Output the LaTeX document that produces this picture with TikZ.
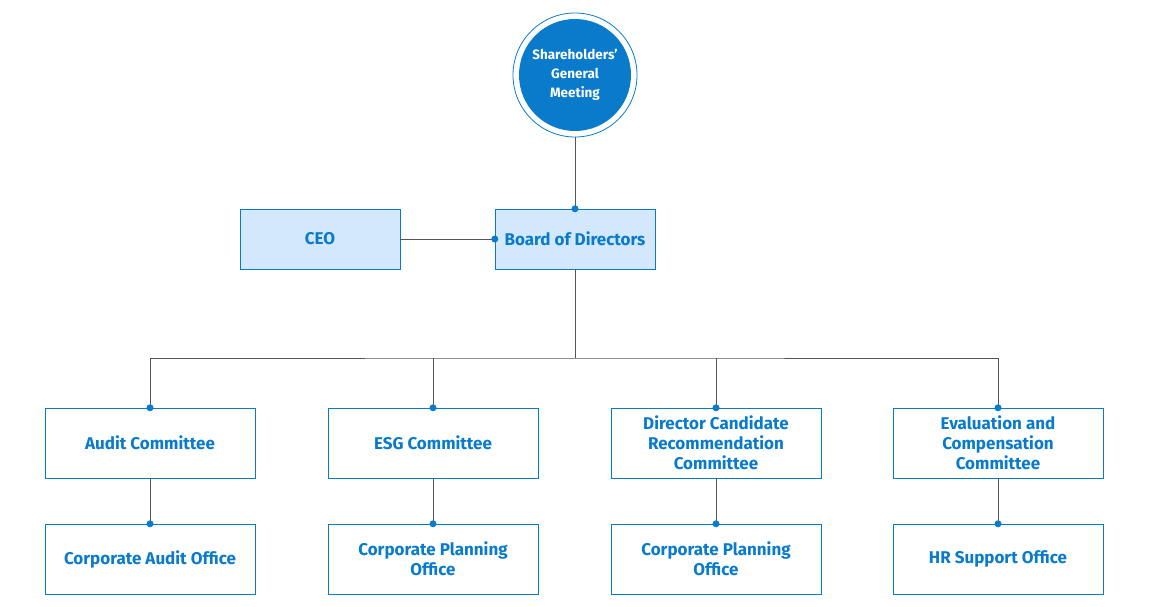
\documentclass[tikz,border=0pt]{standalone}
\usepackage{fontspec}
\setmainfont{Fira Sans}
\usetikzlibrary{positioning}
\definecolor{orgblue}{HTML}{0A7BCB}
\definecolor{orgfill}{HTML}{D3E8FB}
\definecolor{orgline}{HTML}{555555}
\tikzset{
  top/.style={draw=orgblue, fill=orgfill, minimum width=160pt, minimum height=60pt, align=center, text=orgblue, font=\fontsize{17}{20}\selectfont\bfseries},
  unit/.style={draw=orgblue, fill=white, minimum width=210pt, minimum height=70pt, align=center, text=orgblue, font=\fontsize{17}{20}\selectfont\bfseries},
  link/.style={draw=orgline, line width=0.6pt},
  dot/.style={circle, fill=orgblue, inner sep=0pt, minimum size=7pt},
}
\begin{document}
\begin{tikzpicture}[x=1pt, y=-1pt]
\useasboundingbox (0,0) rectangle (1150,607);
\node (gm) [circle, fill=orgblue, minimum size=112pt, text=white, align=center, font=\fontsize{13.5}{19}\selectfont\bfseries] at (575,75) {Shareholders'\\General\\Meeting};
\draw[orgblue, line width=0.8pt] (575,75) circle (62pt);
\node (bod) [top] at (575,239) {Board of Directors};
\node (ceo) [top] at (320,239) {CEO};

\node (audit) [unit] at (150,443) {Audit Committee};
\node (esg)   [unit] at (433,443) {ESG Committee};
\node (dcrc)  [unit] at (716,443) {Director Candidate\\Recommendation\\Committee};
\node (ecc)   [unit] at (998,443) {Evaluation and\\Compensation\\Committee};

\node (cao)  [unit] at (150,559) {Corporate Audit Office};
\node (cpo1) [unit] at (433,559) {Corporate Planning\\Office};
\node (cpo2) [unit] at (716,559) {Corporate Planning\\Office};
\node (hrso) [unit] at (998,559) {HR Support Office};

\coordinate (bus) at (575,358);
\draw[link] (575,137) -- (bod.north);
\draw[link] (ceo) -- (bod);
\draw[link] (bod.south) -- (bus);
\draw[link] (audit.north) |- (bus) -| (ecc.north);
\foreach \c in {esg, dcrc} \draw[link] (\c.north) -- (\c.north |- bus);
\foreach \a/\b in {audit/cao, esg/cpo1, dcrc/cpo2, ecc/hrso} \draw[link] (\a) -- (\b);

% connection dots
\foreach \p in {bod.north, bod.west, audit.north, esg.north, dcrc.north, ecc.north, cao.north, cpo1.north, cpo2.north, hrso.north}
  \node[dot] at (\p) {};
\end{tikzpicture}
\end{document}
